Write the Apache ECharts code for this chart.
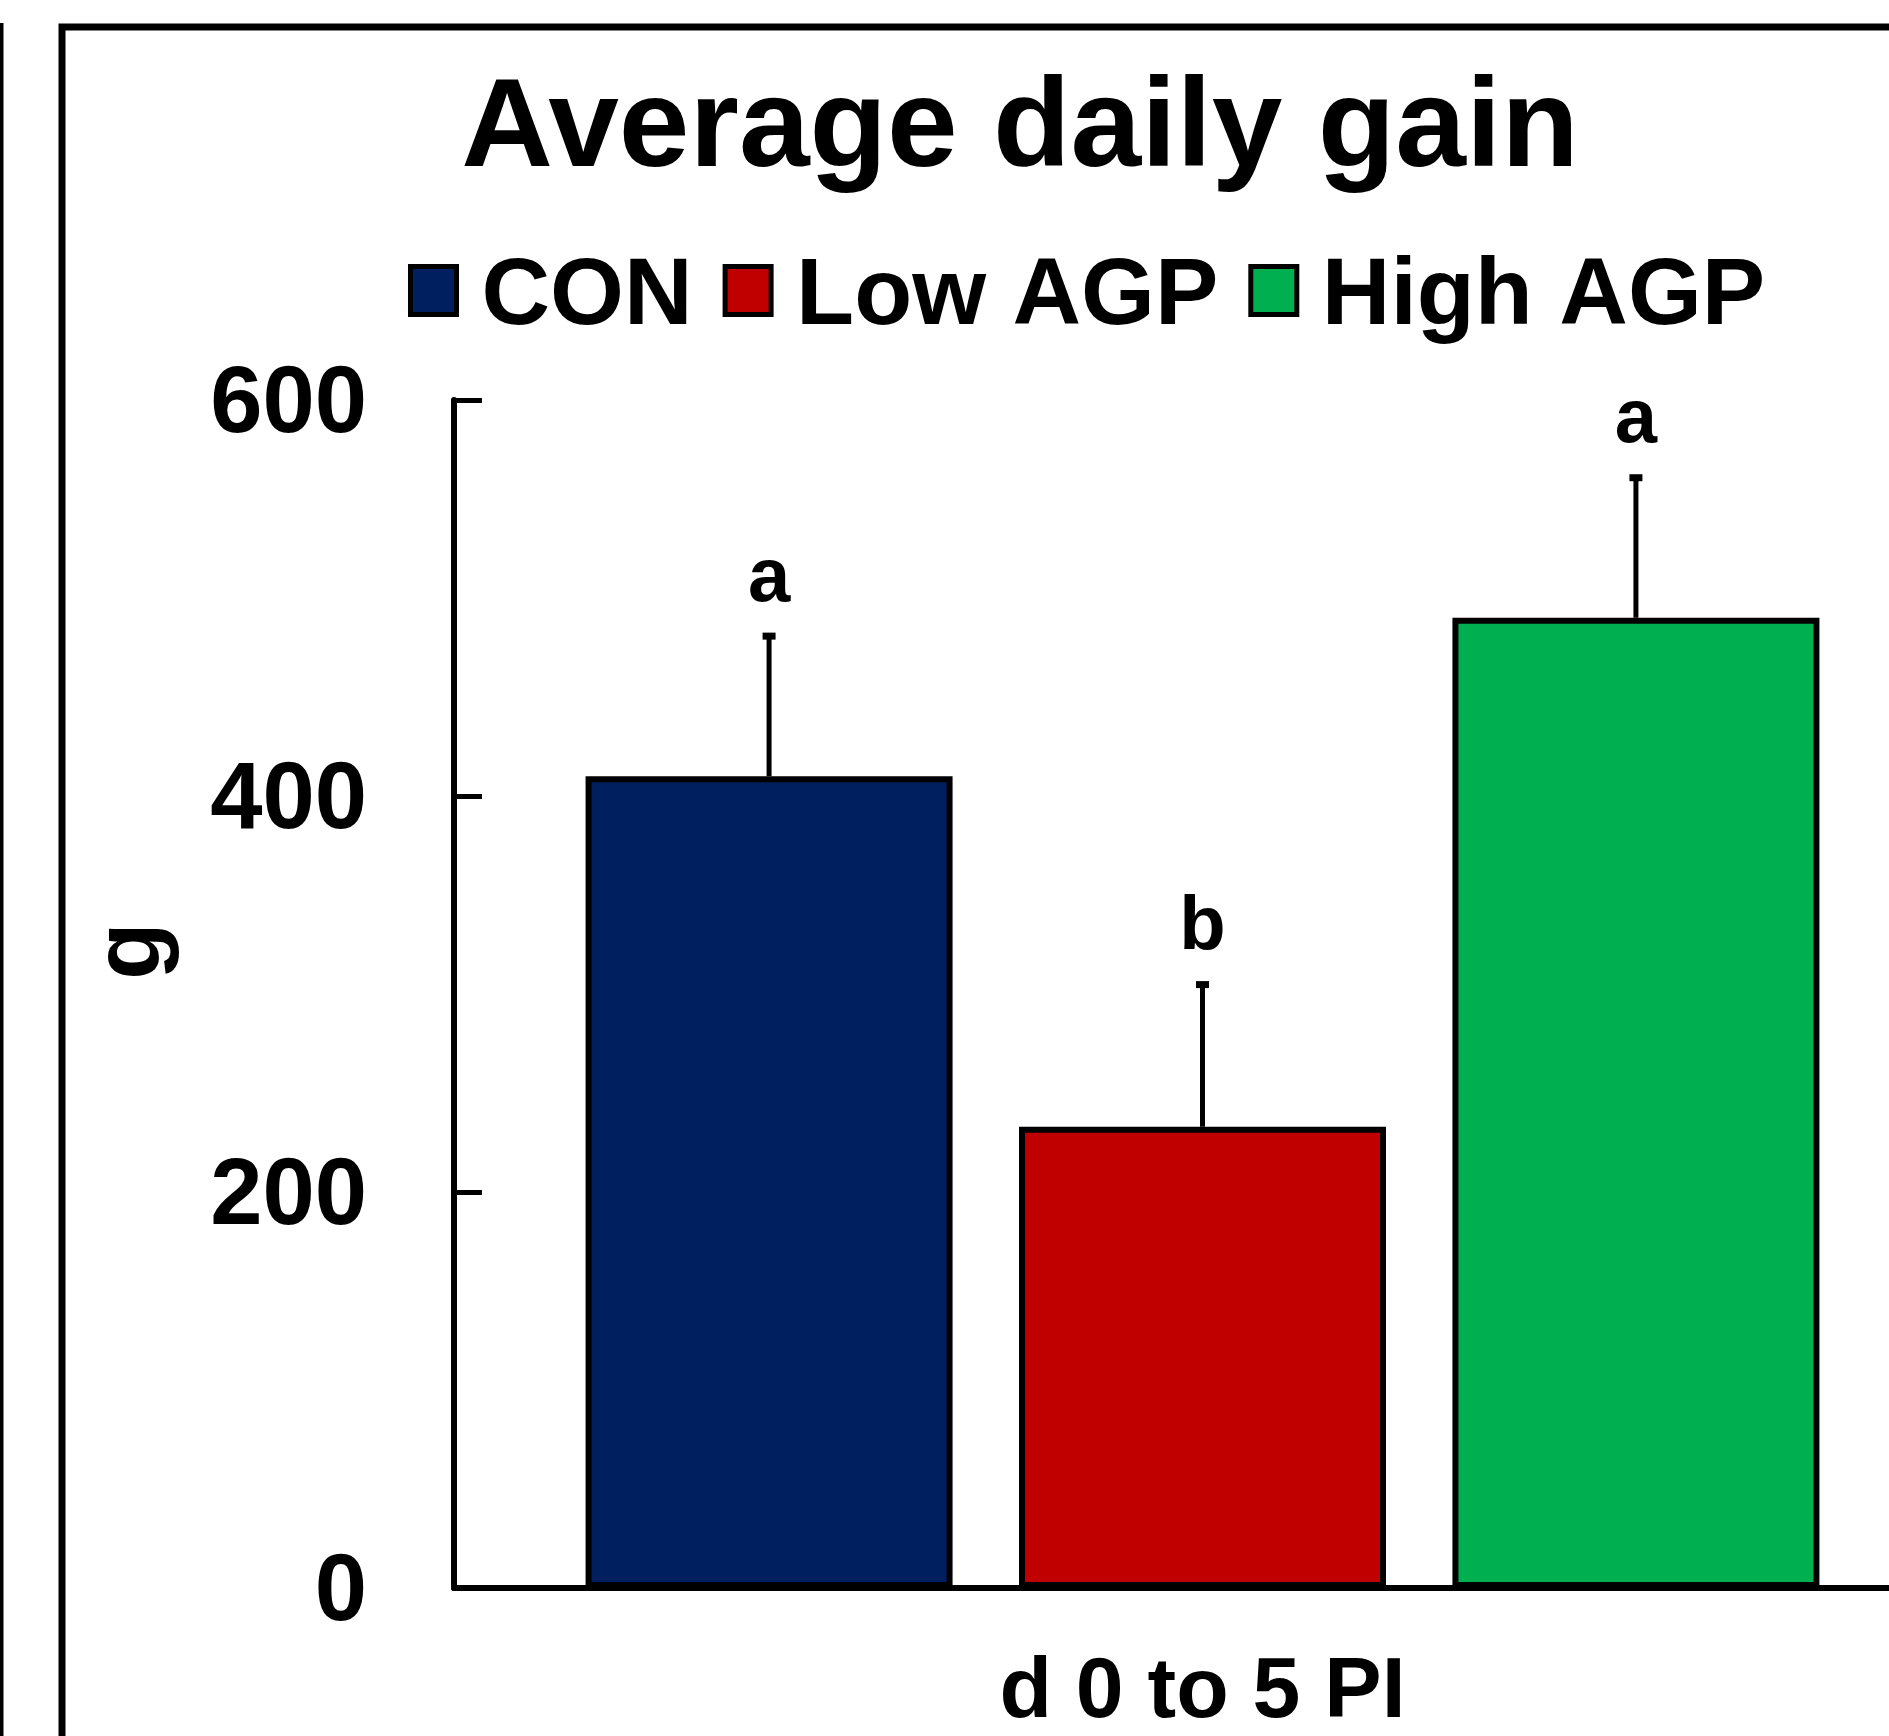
<!DOCTYPE html>
<html>
<head>
<meta charset="utf-8">
<title>Average daily gain</title>
<script src="https://cdn.jsdelivr.net/npm/echarts@6/dist/echarts.min.js"></script>
<style>
  html, body { margin: 0; padding: 0; overflow: hidden; background: #fff; }
  #chart { width: 1960px; height: 1736px; }
</style>
</head>
<body>
<div id="chart"></div>
<script>
// data
const categories = ["d 0 to 5 PI"];
const groups = ["CON", "Low AGP", "High AGP"];
const means = [410, 233, 490];
const errors = [71, 72, 71];
const letters = ["a", "b", "a"];
const yTicks = [0, 200, 400, 600];

const colors = ["#001F5F", "#C00000", "#00B050"];
const font = "Liberation Sans, Arial, sans-serif";
const barWidth = 367;
const barGap = 0.181;
const barStep = barWidth * (1 + barGap);

function errorBar(k) {
  return function (params, api) {
    const cat = api.value(0);
    const mean = api.value(1);
    const err = api.value(2);
    const base = api.coord([cat, mean]);
    const top = api.coord([cat, mean + err]);
    const x = base[0] + (k - 1) * barStep;
    return {
      type: "group",
      children: [
        {
          type: "line",
          shape: { x1: x, y1: base[1], x2: x, y2: top[1] },
          style: { stroke: "#000", lineWidth: 5 },
        },
        {
          type: "rect",
          shape: { x: x - 6.5, y: top[1] - 3, width: 13, height: 7 },
          style: { fill: "#000" },
        },
        {
          type: "text",
          x: x,
          y: top[1] - 18,
          style: {
            text: letters[k],
            font: "bold 76px " + font,
            fill: "#000",
            align: "center",
            verticalAlign: "bottom",
            textAlign: "center",
            textVerticalAlign: "bottom",
          },
        },
      ],
    };
  };
}

const series = [];
groups.forEach(function (name, k) {
  series.push({
    name: name,
    type: "bar",
    barWidth: barWidth,
    barGap: barGap * 100 + "%",
    itemStyle: { color: colors[k], borderColor: "#000", borderWidth: 6 },
    data: [means[k]],
    z: 2,
  });
});
groups.forEach(function (name, k) {
  series.push({
    type: "custom",
    renderItem: errorBar(k),
    data: [[0, means[k], errors[k]]],
    z: 3,
    silent: true,
  });
});

const chart = echarts.init(document.getElementById("chart"));
chart.setOption({
  animation: false,
  backgroundColor: "#fff",
  textStyle: { fontFamily: font },
  title: {
    text: "Average daily gain",
    left: 1020,
    top: 67,
    padding: 0,
    textAlign: "center",
    textStyle: { fontSize: 127, fontWeight: "bold", color: "#000", fontFamily: font },
  },
  legend: {
    data: groups,
    left: 408,
    top: 250,
    padding: 0,
    itemWidth: 46,
    itemHeight: 48,
    itemGap: 30,
    icon: "rect",
    itemStyle: { borderColor: "#000", borderWidth: 5 },
    formatter: function (name) {
      return "{t|" + name + "}";
    },
    textStyle: {
      fontSize: 95,
      fontWeight: "bold",
      color: "#000",
      fontFamily: font,
      padding: [0, 0, 0, 20],
      rich: {
        t: {
          fontSize: 95,
          fontWeight: "bold",
          color: "#000",
          fontFamily: font,
          padding: [14, 0, 0, 0],
        },
      },
    },
  },
  grid: { left: 454, top: 400, width: 1497, bottom: 146 },
  xAxis: {
    type: "category",
    data: categories,
    axisLine: { lineStyle: { color: "#000", width: 6 } },
    axisTick: { show: false },
    axisLabel: { fontSize: 86, fontWeight: "bold", color: "#000", margin: 62, fontFamily: font },
  },
  yAxis: {
    type: "value",
    min: yTicks[0],
    max: yTicks[yTicks.length - 1],
    interval: 200,
    name: "g",
    nameLocation: "middle",
    nameGap: 274,
    nameTextStyle: {
      fontSize: 94,
      fontWeight: "bold",
      color: "#000",
      fontFamily: font,
      padding: [0, 0, 0, 86],
    },
    axisLine: { show: true, lineStyle: { color: "#000", width: 6 } },
    axisTick: { show: true, inside: true, length: 28, lineStyle: { color: "#000", width: 5 } },
    axisLabel: {
      fontSize: 94,
      fontWeight: "bold",
      color: "#000",
      margin: 87,
      fontFamily: font,
      verticalAlign: "top",
      lineHeight: 12,
    },
    splitLine: { show: false },
  },
  graphic: [
    {
      type: "rect",
      shape: { x: 62, y: 27, width: 3000, height: 3000 },
      style: { fill: "none", stroke: "#000", lineWidth: 7 },
      silent: true,
    },
    {
      type: "line",
      shape: { x1: 1.5, y1: 23, x2: 1.5, y2: 1800 },
      style: { stroke: "#000", lineWidth: 4 },
      silent: true,
    },
  ],
  series: series,
});
</script>
</body>
</html>
